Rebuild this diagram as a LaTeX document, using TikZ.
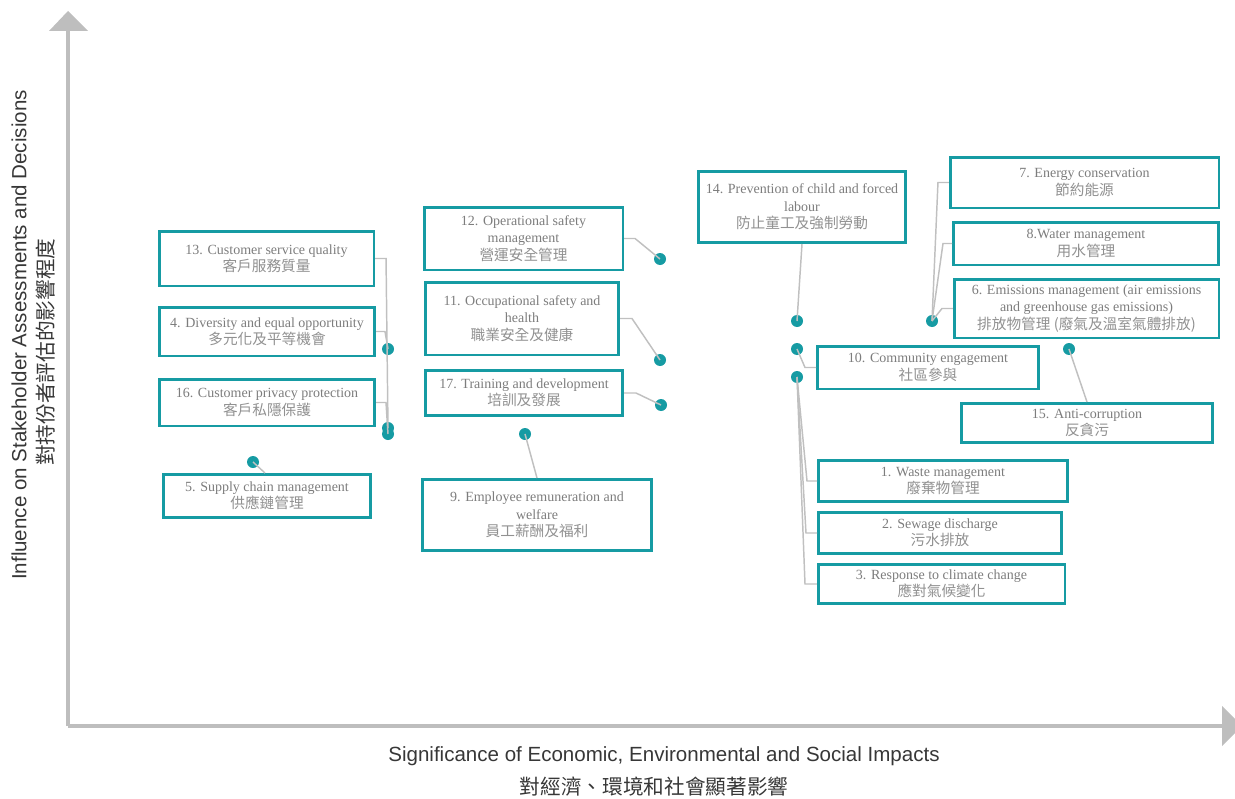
\documentclass[tikz,border=0pt]{standalone}
\usepackage{fontspec}
\setmainfont{Liberation Serif}
\newfontfamily\cjk{Noto Sans CJK TC}
\newfontfamily\axisfont{Liberation Sans}
\usetikzlibrary{calc}
\definecolor{tealbox}{RGB}{22,155,163}
\definecolor{conngray}{RGB}{192,192,192}
\definecolor{axgray}{RGB}{190,190,190}
\definecolor{txtgray}{RGB}{125,125,125}
\definecolor{cjkgray}{RGB}{145,145,145}
\definecolor{axtxt}{RGB}{55,55,55}
\newcommand{\cjkline}[1]{{\cjk\fontsize{11}{13}\selectfont\color{cjkgray}#1}}
\tikzset{
  issue/.style={draw=tealbox, line width=1.9pt, fill=white, inner sep=0pt, align=center,
    text=txtgray, font=\fontsize{10.5}{13}\selectfont},
  dot/.style={circle, fill=tealbox, inner sep=0pt, minimum size=9pt},
  connector/.style={draw=conngray, line width=1.1pt},
  axisline/.style={draw=axgray, line width=2.3pt},
  axislab/.style={text=axtxt, inner sep=0pt},
}
\begin{document}
\begin{tikzpicture}[x=0.75pt,y=-0.75pt]
\useasboundingbox (0,0) rectangle (1235,799);
% axes
\coordinate (origin) at (68,726);
\coordinate (ytop) at (68,31);
\coordinate (xend) at (1222,726);
\draw[axisline] (origin) -- (ytop);
\draw[axisline] (origin) -- (xend);
\fill[axgray] (49,31) -- (68,11) -- (88,31) -- cycle;
\fill[axgray] (1222,706) -- (1242,726) -- (1222,746) -- cycle;
% axis labels
\node[axislab, font=\axisfont\fontsize{15.4}{17}\selectfont] (xlab) at (664,756) {Significance of Economic, Environmental and Social Impacts};
\node[axislab, font=\cjk\fontsize{15.5}{17}\selectfont] (xlabzh) at (654,787) {對經濟、環境和社會顯著影響};
\node[axislab, rotate=90, font=\axisfont\fontsize{15.4}{17}\selectfont] (ylab) at (19,335) {Influence on Stakeholder Assessments and Decisions};
\node[axislab, rotate=90, font=\cjk\fontsize{15.5}{17}\selectfont] (ylabzh) at (46,352) {對持份者評估的影響程度};

% dots
\node[dot] (d4) at (388,349) {};
\node[dot] (d13) at (388,428) {};
\node[dot] (d16) at (388,434) {};
\node[dot] (d5) at (253,462) {};
\node[dot] (d12) at (660,259) {};
\node[dot] (d11) at (660,360) {};
\node[dot] (d17) at (661,405) {};
\node[dot] (d9) at (525,434) {};
\node[dot] (d14) at (797,321) {};
\node[dot] (d10) at (797,349) {};
\node[dot] (d123) at (797,377) {};
\node[dot] (d678) at (932,321) {};
\node[dot] (d15) at (1069,349) {};

% boxes
\node[issue, minimum width=160.9pt, minimum height=40.9pt] (b13) at (266.5,258.5) {13. Customer service quality\\\cjkline{客戶服務質量}};
\node[issue, minimum width=161.6pt, minimum height=36.4pt] (b4) at (267,331.5) {4. Diversity and equal opportunity\\\cjkline{多元化及平等機會}};
\node[issue, minimum width=161.6pt, minimum height=34.9pt] (b16) at (267,402.5) {16. Customer privacy protection\\\cjkline{客戶私隱保護}};
\node[issue, minimum width=155.6pt, minimum height=32.6pt] (b5) at (267,496) {5. Supply chain management\\\cjkline{供應鏈管理}};
\node[issue, minimum width=148.9pt, minimum height=46.9pt] (b12) at (523.5,238.5) {12. Operational safety\\management\\\cjkline{營運安全管理}};
\node[issue, minimum width=145.1pt, minimum height=54.4pt] (b11) at (522,318.5) {11. Occupational safety and\\health\\\cjkline{職業安全及健康}};
\node[issue, minimum width=148.1pt, minimum height=34.1pt] (b17) at (524,393) {17. Training and development\\\cjkline{培訓及發展}};
\node[issue, minimum width=172.1pt, minimum height=53.6pt] (b9) at (537,515) {9. Employee remuneration and\\welfare\\\cjkline{員工薪酬及福利}};
\node[issue, minimum width=155.6pt, minimum height=53.6pt] (b14) at (802,207) {14. Prevention of child and forced\\labour\\\cjkline{防止童工及強制勞動}};
\node[issue, minimum width=166.1pt, minimum height=31.9pt] (b10) at (928,367.5) {10. Community engagement\\\cjkline{社區參與}};
\node[issue, minimum width=201.4pt, minimum height=37.9pt] (b7) at (1084.5,182.5) {7. Energy conservation\\\cjkline{節約能源}};
\node[issue, minimum width=199.1pt, minimum height=31.9pt] (b8) at (1086,243.5) {8.Water management\\\cjkline{用水管理}};
\node[issue, minimum width=198.4pt, minimum height=43.9pt] (b6) at (1086.5,308.5) {6. Emissions management (air emissions\\and greenhouse gas emissions)\\\cjkline{排放物管理 (廢氣及溫室氣體排放)}};
\node[issue, minimum width=188.6pt, minimum height=29.6pt] (b15) at (1087,423) {15. Anti-corruption\\\cjkline{反貪污}};
\node[issue, minimum width=187.1pt, minimum height=31.1pt] (b1) at (943,481) {1. Waste management\\\cjkline{廢棄物管理}};
\node[issue, minimum width=182.6pt, minimum height=31.1pt] (b2) at (940,533) {2. Sewage discharge\\\cjkline{污水排放}};
\node[issue, minimum width=184.9pt, minimum height=29.6pt] (b3) at (941.5,584) {3. Response to climate change\\\cjkline{應對氣候變化}};

% connectors
\draw[connector] (b13.east) -- ++(11,0) -- (d13.center);
\draw[connector] (b4.east) -- ++(9,0) -- (d4.center);
\draw[connector] (b16.east) -- ++(10,0) -- (d16.center);
\draw[connector] (d5.center) -- ($(b5.north west)+(103,0)$);
\draw[connector] (b12.east) -- ++(11,0) -- (d12.center);
\draw[connector] (b11.east) -- ++(12,0) -- (d11.center);
\draw[connector] (b17.east) -- ++(12,0) -- (d17.center);
\draw[connector] (d9.center) -- (b9.north);
\draw[connector] (b14.south) -- (d14.center);
\draw[connector] (d10.center) -- (805,367.5) -- (b10.west);
\draw[connector] (d123.center) -- (807,481) -- (b1.west);
\draw[connector] (d123.center) -- (806,533) -- (b2.west);
\draw[connector] (d123.center) -- (805,584) -- (b3.west);
\draw[connector] (b7.west) -- ++(-11,0) -- (d678.center);
\draw[connector] (b8.west) -- ++(-9,0) -- (d678.center);
\draw[connector] (b6.west) -- ++(-11,0) -- (d678.center);
\draw[connector] (d15.center) -- (b15.north);
\end{tikzpicture}
\end{document}
